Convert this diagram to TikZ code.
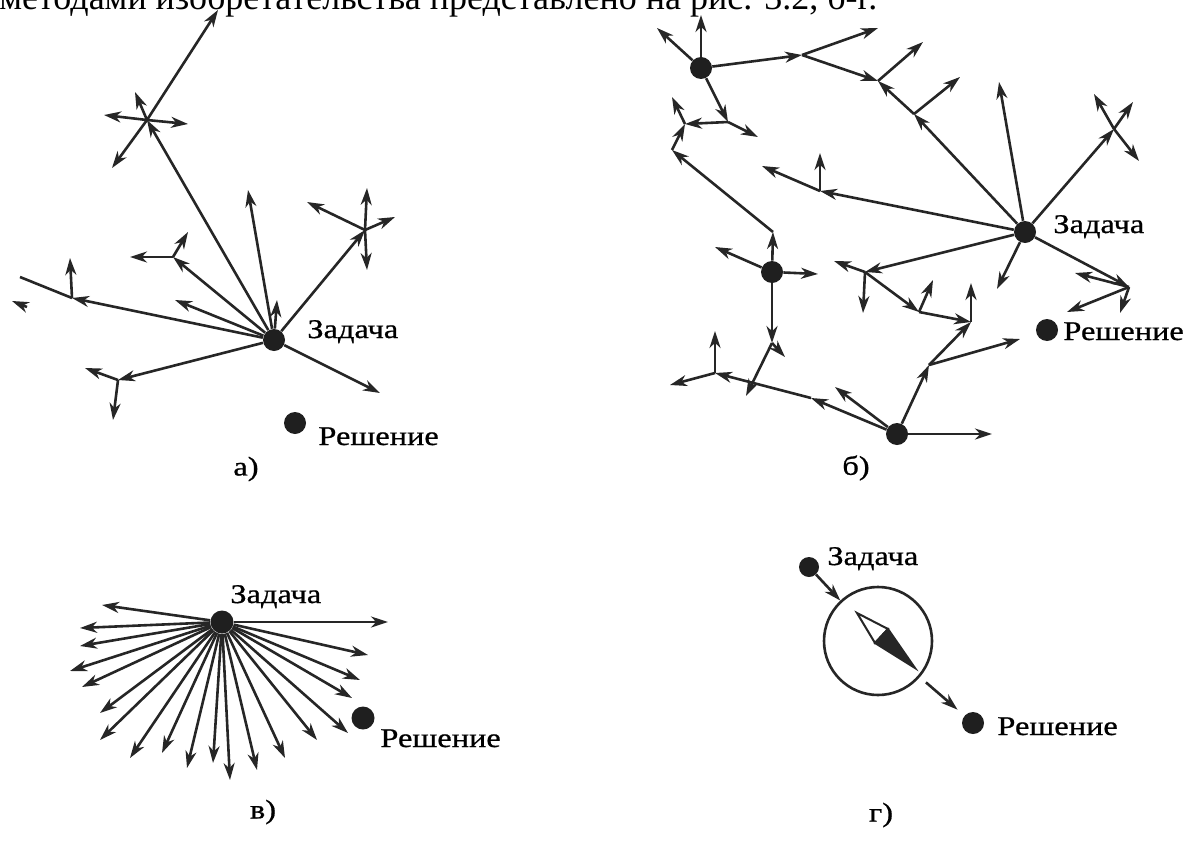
\documentclass[tikz,border=0pt]{standalone}
\usepackage{fontspec}
\setmainfont{Liberation Serif}
\newfontfamily\lblfont[FakeStretch=1.2, FakeBold=0.8]{Liberation Serif}
\usetikzlibrary{arrows.meta}

\begin{document}
\begin{tikzpicture}[x=0.5pt, y=-0.5pt, every node/.style={font=\lblfont\fontsize{13.5pt}{16pt}\selectfont}]
    \tikzset{dot/.style={circle, fill=black!88, inner sep=0pt, minimum size=11pt},
             arr/.style={-{Stealth[length=8.5pt, width=5.5pt, inset=2.6pt]}, line width=1.3pt, draw=black!85},
             ln/.style={line width=1.3pt, draw=black!85},
             lbl/.style={anchor=base west, inner sep=0pt}}
    \useasboundingbox (0,0) rectangle (1203,840);
    \clip (0,0) rectangle (1203,840);
    \node[lbl, font=\rmfamily\fontsize{18pt}{21pt}\selectfont] (head) at (-1,10)
      {методами изобретательства представлено на рис. 3.2, б-г.};

    % а)
    \node[dot] (az) at (274,340) {};
    \node[lbl] (azt) at (307,338) {Задача};
    \node[dot] (ar) at (295,423) {};
    \node[lbl] (art) at (318,445) {Решение};
    \node (al) at (246,469) {а)};
    \foreach \n/\x/\y in {a1/147/120, a2/365/230, a3/173/257, a4/72/298, a5/118/380,
                          ae1/248/190, ae2/277/300, ae3/175/300, ae4/380/393,
                          ae5/218/10, ae6/135/92, ae7/112/168, ae8/104/115, ae9/188/124,
                          ae10/367/188, ae11/367/270, ae12/307/202, ae13/395/217,
                          ae14/130/257, ae15/188/232, ae16/70/258, ae17/20/277,
                          ae18/85/368, ae19/113/420, ae20/12/301, ae21/27/307}
      \coordinate (\n) at (\x,\y);
    \foreach \a/\b in {az/a1, az/a2, az/a3, az/a4, az/a5, az/ae1, az/ae2, az/ae3, az/ae4,
                       a1/ae5, a1/ae6, a1/ae7, a1/ae8, a1/ae9,
                       a2/ae10, a2/ae11, a2/ae12, a2/ae13, a3/ae14, a3/ae15,
                       a4/ae16, a5/ae18, a5/ae19, ae21/ae20}
      \draw[arr] (\a) -- (\b);
    \draw[ln] (a4) -- (ae17);

    % б)
    \node[dot] (bz) at (1025,232) {};
    \node[lbl] (bzt) at (1053,233) {Задача};
    \node[dot] (br) at (1047,330) {};
    \node[lbl] (brt) at (1063,340) {Решение};
    \node[dot] (b1) at (701,68) {};
    \node[dot] (b2) at (772,272) {};
    \node[dot] (b3) at (897,434) {};
    \node (bl) at (856,468) {б)};
    \foreach \n/\x/\y in {j1/802/55, j2/878/81, j3/728/122, j4/685/124, j5/865/272,
                          j6/919/312, j7/971/322, j8/929/365, j9/715/373, j10/772/343,
                          j11/1129/287, j12/914/114, j13/1114/129, j14/820/191,
                          v1/773/232, v2/672/150, v3/811/398,
                          be1/701/15, be2/657/28, be3/878/28, be4/923/42, be5/758/137,
                          be6/672/97, be7/960/77, be8/999/82, be9/997/289,
                          be10/1094/94, be11/1133/102, be12/1139/161,
                          be13/762/166, be14/820/153, be15/834/261, be16/863/313,
                          be17/933/280, be18/971/283, be19/1020/339,
                          be20/992/434, be21/835/387, be22/715/331, be23/670/385,
                          be24/1075/273, be25/1067/312, be26/1120/313,
                          be27/715/247, be28/818/274, be29/785/357, be30/746/396}
      \coordinate (\n) at (\x,\y);
    \foreach \a/\b in {b1/j1, j1/j2, b1/j3, j3/j4, v2/j4, bz/j12, j12/j2, bz/j13, bz/j14,
                       bz/j5, j5/j6, j6/j7, j8/j7, b3/j8, bz/j11, b2/v1, v1/v2,
                       b3/v3, v3/j9, b2/j10,
                       b1/be1, b1/be2, j1/be3, j2/be4, j3/be5, j4/be6, j12/be7,
                       bz/be8, bz/be9, j13/be10, j13/be11, j13/be12, j14/be13, j14/be14,
                       j5/be15, j5/be16, j6/be17, j7/be18, j8/be19, b3/be20, b3/be21,
                       j9/be22, j9/be23, j11/be24, j11/be25, j11/be26,
                       b2/be27, b2/be28, j10/be29, j10/be30}
      \draw[arr] (\a) -- (\b);

    % в)
    \node[dot, minimum size=11.5pt] (vz) at (222,622) {};
    \node[lbl] (vzt) at (230,603) {Задача};
    \node[dot, minimum size=11.5pt] (vr) at (363,718) {};
    \node[lbl] (vrt) at (380,747) {Решение};
    \node (vl) at (263,812) {в)};
    \foreach \x/\y [count=\i] in {102/605, 80/628, 80/646, 70/671, 82/687, 100/713, 100/740,
                                 130/758, 162/753, 187/768, 213/763, 230/780, 257/770,
                                 285/758, 317/740, 348/733, 352/698, 360/680, 368/655, 388/622}
      {\coordinate (ve\i) at (\x,\y);
       \draw[arr] (vz) -- (ve\i);}

    % г)
    \node[dot, minimum size=10pt] (gz) at (809,567) {};
    \node[lbl] (gzt) at (827,565) {Задача};
    \node[circle, draw=black!85, line width=1.3pt, minimum size=54pt, inner sep=0pt] (gc) at (878,641) {};
    \node[dot] (gr) at (973,723) {};
    \node[lbl] (grt) at (997,735) {Решение};
    \node (gl) at (881,815) {г)};
    \draw[arr] (gz) -- (gc);
    \draw[arr, shorten <=4pt, shorten >=4.5pt] (gc) -- (gr);
    \filldraw[draw=black!85, fill=white, line width=1pt] (857,613) -- (888,629) -- (875,643) -- cycle;
    \filldraw[draw=black!85, fill=black!85, line width=1pt] (915,668) -- (875,643) -- (888,629) -- cycle;
\end{tikzpicture}
\end{document}
